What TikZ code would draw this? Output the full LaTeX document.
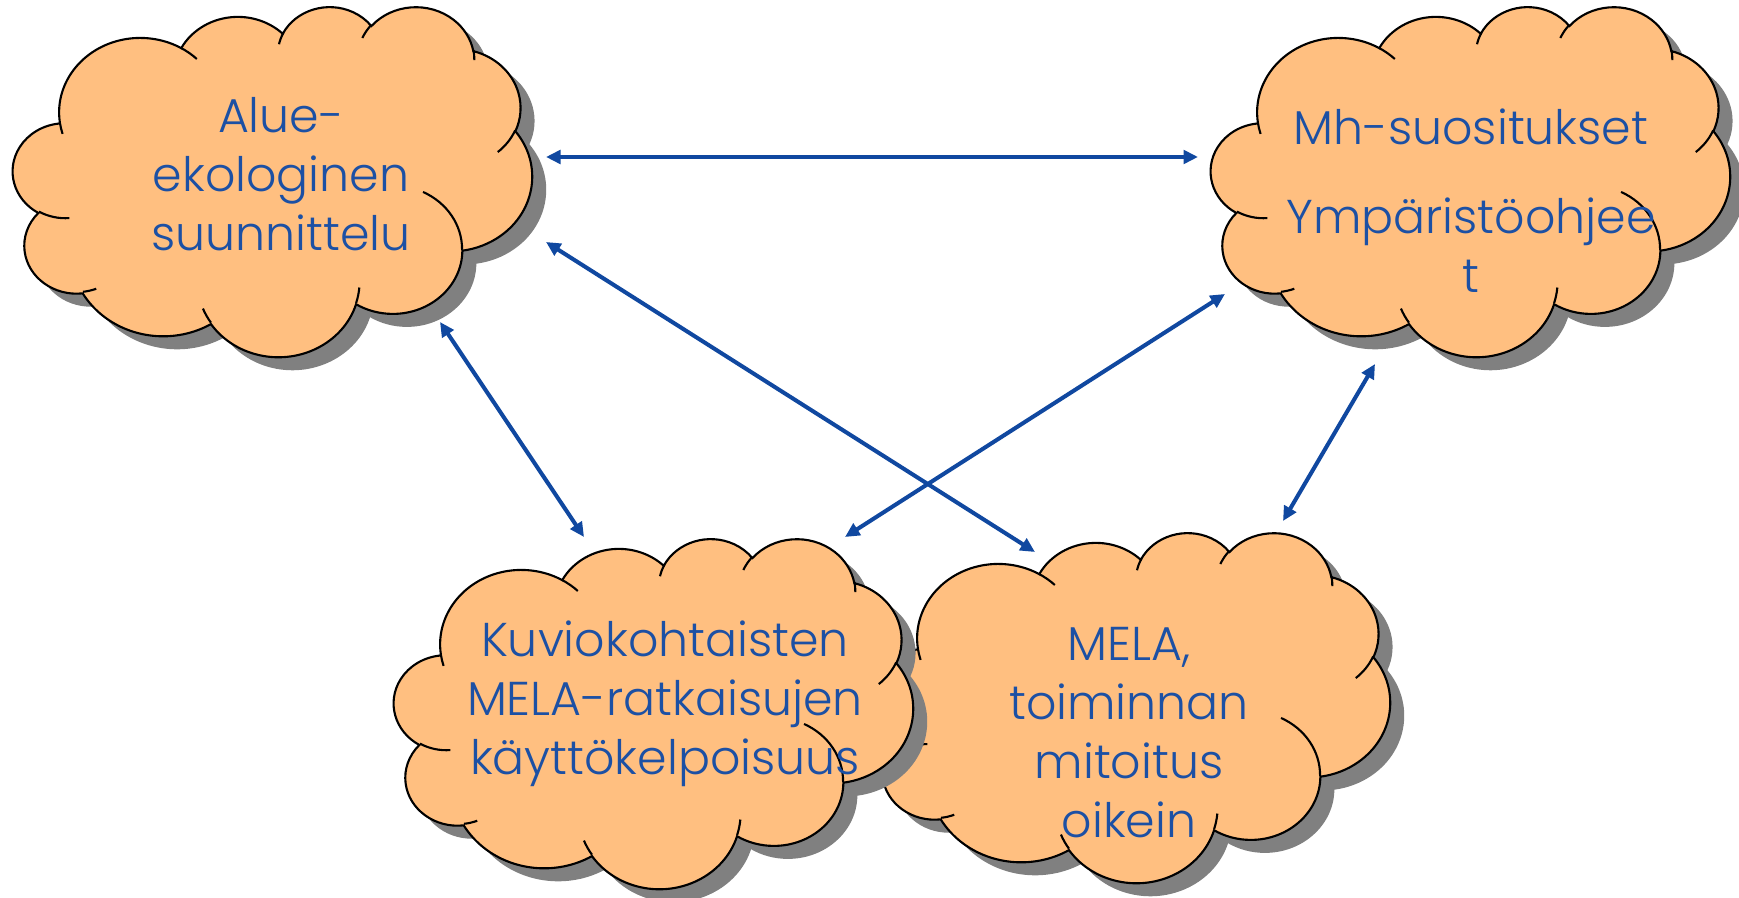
\documentclass[tikz,border=0pt]{standalone}
\usepackage{fontspec}
\setmainfont{Poppins}[UprightFont=* Light]
\usetikzlibrary{arrows.meta}
\definecolor{cloudfill}{RGB}{255,191,128}
\definecolor{cloudshade}{RGB}{128,128,128}
\definecolor{linkblue}{RGB}{16,72,160}
\definecolor{textblue}{RGB}{28,80,164}

% one puff of the cloud: x radius, y radius, start angle, sweep
\newcommand{\puff}[4]{arc[x radius=#1, y radius=#2,
  start angle={atan2(#1*sin(#3),#2*cos(#3))},
  delta angle={mod(atan2(#1*sin(#3+#4),#2*cos(#3+#4))-atan2(#1*sin(#3),#2*cos(#3))+720,360)}]}

\newcommand{\cloudoutline}{(39.00,143.70)
  \puff{67.53}{91.90}{-190.4875}{123.7805}
  \puff{53.33}{72.67}{-144.1024}{89.9452}
  \puff{43.65}{59.45}{-145.8079}{99.7230}
  \puff{48.57}{65.95}{-130.9861}{117.2417}
  \puff{53.33}{72.73}{-78.7089}{109.0269}
  \puff{67.75}{92.20}{-46.2673}{130.2690}
  \puff{57.85}{78.67}{0.6250}{114.0333}
  \puff{67.52}{92.15}{22.4516}{115.1726}
  \puff{77.20}{105.43}{66.2426}{75.7110}
  \puff{43.60}{59.18}{-274.9421}{146.7356}
  \puff{43.45}{59.45}{-246.8285}{152.5189} -- cycle}

\newcommand{\cloudcreases}{
  (46.93,261.77) \puff{43.45}{59.45}{86.7420}{26.4295}
  (69.28,348.99) \puff{43.60}{59.18}{73.6105}{11.4475}
  (164.78,390.90) \puff{67.52}{92.15}{137.6242}{14.0811}
  (288.27,347.51) \puff{67.52}{92.15}{6.4533}{15.9984}
  (341.29,229.54) \puff{57.85}{78.67}{-70.2924}{70.9174}
  (417.98,153.54) \puff{53.33}{72.73}{30.3180}{27.7515}
  (383.24,54.26) \puff{48.57}{65.95}{-13.7443}{14.8589}
  (290.78,39.52) \puff{48.57}{65.95}{-149.1815}{18.1954}
  (221.41,47.20) \puff{43.65}{59.45}{-163.4943}{17.6864}
  (140.00,51.92) \puff{67.53}{91.90}{-66.7070}{12.3194}
  (41.27,157.89) \puff{67.53}{91.90}{157.6544}{11.8582}}

% cloud with its shadow, top left corner at #1,#2
\newcommand{\drawcloud}[2]{
  \begin{scope}[shift={(#1+14,#2+13)}, xscale=519/432, yscale=350/432]
    \fill[cloudshadow] \cloudoutline;
  \end{scope}
  \begin{scope}[shift={(#1,#2)}, xscale=519/432, yscale=350/432]
    \filldraw[cloudbody] \cloudoutline;
    \draw[cloudedge] \cloudcreases;
  \end{scope}}

\begin{document}
\begin{tikzpicture}[x=0.1mm, y=-0.1mm,
    cloudshadow/.style={fill=cloudshade},
    cloudbody/.style={fill=cloudfill, draw=black, line width=0.6pt},
    cloudedge/.style={draw=black, line width=0.6pt},
    cloudtext/.style={text=textblue, align=center, font=\fontsize{13.5}{16.8}\selectfont},
    link/.style={{Triangle[length=1.45mm,width=1.35mm]}-{Triangle[length=1.45mm,width=1.35mm]},
      draw=linkblue, line width=1.15pt}]
    \useasboundingbox (0,0) rectangle (1739,898);

    \drawcloud{13}{6}
    \node[cloudtext] (Alue) at (281,174) {Alue-\\ekologinen\\suunnittelu};

    \drawcloud{1211}{6}
    \node[cloudtext] (Mh) at (1471,201) {Mh-suositukset\\[3mm]Ympäristöohjee\\t};

    \drawcloud{871}{532}
    \node[cloudtext] (MELA) at (1129,733) {MELA,\\toiminnan\\mitoitus\\oikein};

    \drawcloud{394}{538}
    \node[cloudtext] (Kuvio) at (665,704) {Kuviokohtaisten\\MELA-ratkaisujen\\käyttökelpoisuus};

    \coordinate (AM) at (546,157);
    \coordinate (MA) at (1198,157);
    \coordinate (AE) at (546,242);
    \coordinate (EA) at (1035,552);
    \coordinate (AK) at (440,322);
    \coordinate (KA) at (584,537);
    \coordinate (MK) at (1225,294);
    \coordinate (KM) at (845,537);
    \coordinate (ME) at (1375,364);
    \coordinate (EM) at (1283,521);

    \draw (AM) edge[link] (MA);
    \draw (AE) edge[link] (EA);
    \draw (AK) edge[link] (KA);
    \draw (MK) edge[link] (KM);
    \draw (ME) edge[link] (EM);
\end{tikzpicture}
\end{document}
